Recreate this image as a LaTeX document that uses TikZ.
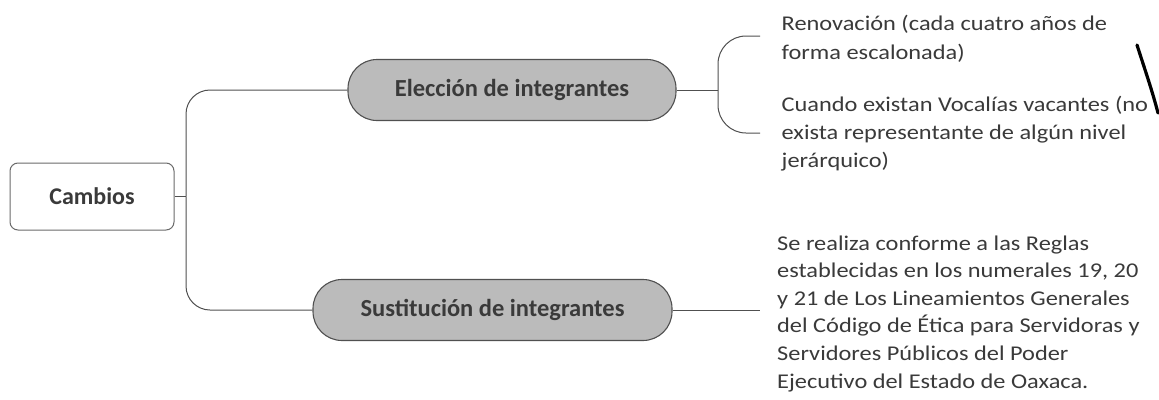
\documentclass[tikz,border=0pt]{standalone}
\usepackage{fontspec}
\setmainfont{Carlito}
\newfontfamily\leaffont[FakeStretch=1.16]{Carlito}
\definecolor{linegray}{HTML}{505050}
\definecolor{pillfill}{HTML}{BBBBBB}
\definecolor{txtgray}{HTML}{3A3A3A}
\begin{document}
\begin{tikzpicture}[x=1pt,y=-1pt,
  conn/.style={draw=linegray,line width=1pt},
  rootbox/.style={draw=linegray!85,line width=1pt,fill=white,rounded corners=8pt,
    minimum width=164pt,minimum height=67pt,inner sep=0pt,
    font=\bfseries\fontsize{24}{26}\selectfont,text=txtgray},
  pill/.style={draw=linegray,line width=1.1pt,fill=pillfill,rounded corners=29pt,
    minimum height=61pt,inner sep=0pt,
    font=\bfseries\fontsize{24.5}{26}\selectfont,text=txtgray},
  leaf/.style={anchor=base west,inner sep=0pt,align=left,text=txtgray,
    font=\leaffont\fontsize{21}{28}\selectfont}
]
\useasboundingbox (0,0) rectangle (1159,399);
\fill[white] (0,0) rectangle (1159,399);

\node[rootbox] (cam) at (92,196.5) {Cambios};
\node[pill,minimum width=328pt] (ele) at (512,90) {Elección de integrantes};
\node[pill,minimum width=359pt] (sus) at (492.5,310) {Sustitución de integrantes};

\coordinate (tr) at (186,196.5);
\draw[conn] (cam.east) -- (tr);
\draw[conn,rounded corners=24pt] (tr) |- (ele.west);
\draw[conn,rounded corners=24pt] (tr) |- (sus.west);

\coordinate (bm) at (718,90);
\coordinate (bt) at (760,36);
\coordinate (bb) at (760,133);
\draw[conn] (ele.east) -- (bm);
\draw[conn,rounded corners=28pt] (bm) |- (bt);
\draw[conn,rounded corners=28pt] (bm) |- (bb);

\coordinate (se) at (760,310);
\draw[conn] (sus.east) -- (se);

\node[leaf,font=\leaffont\fontsize{21}{28.6}\selectfont] (t1) at (781.5,59.3) {Renovación (cada cuatro años de\\forma escalonada)};
\node[leaf,font=\leaffont\fontsize{21}{27.7}\selectfont] (t2) at (781.5,167) {Cuando existan Vocalías vacantes (no\\exista representante de algún nivel\\jerárquico)};
\node[leaf,font=\leaffont\fontsize{21}{27.6}\selectfont] (t3) at (777,388) {Se realiza conforme a las Reglas\\establecidas en los numerales 19, 20\\y 21 de Los Lineamientos Generales\\del Código de Ética para Servidoras y\\Servidores Públicos del Poder\\Ejecutivo del Estado de Oaxaca.};

\draw[black,line width=3.2pt,line cap=round] (1137,45) .. controls (1145,70) and (1152,90) .. (1158,113);
\end{tikzpicture}
\end{document}
